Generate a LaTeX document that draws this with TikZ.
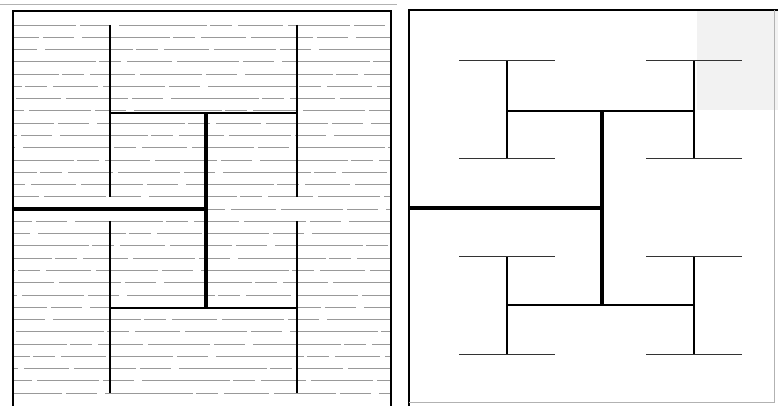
\documentclass[tikz,border=0pt]{standalone}
\usetikzlibrary{positioning}

\begin{document}
\begin{tikzpicture}[
    x=1pt, y=-1pt,
    frame/.style = {black, line width=1.5pt},
    faint/.style = {black!30, line width=1pt},
    trunk/.style = {black, line width=3.2pt},
    branch/.style = {black, line width=2pt},
    twig/.style = {black, line width=1.4pt},
    leaf/.style = {black!80, line width=1pt},
    row/.style = {black!40, line width=0.8pt,
      dash pattern=on 62pt off 4pt on 31pt off 8pt on 88pt off 3pt on 22pt off 6pt on 45pt off 5pt}
    ]

  \useasboundingbox (0,0) rectangle (779,406);

  % left panel
  \draw[faint] (0,5) -- (397,5);
  \fill[black!5] (697,11) rectangle (778,110);

  \foreach \i in {0,...,30}
    \draw[row, dash phase=\i*37pt] (14,25+\i*12.27) -- (390,25+\i*12.27);

  \draw[frame] (13,406) -- (13,11) -- (391,11) -- (391,406);

  \coordinate (lin) at (13,209);
  \coordinate (lroot) at (206,209);
  \draw[trunk] (lin) -- (lroot);
  \draw[trunk] (206,113) -- (206,308);
  \foreach \y in {113,308}
    \draw[branch] (110,\y) -- (297,\y);
  \foreach \x in {110,297}
    \foreach \y in {111,307}
      \draw[twig] (\x,\y-86) -- (\x,\y+86);

  % right panel
  \draw[frame] (409,406) -- (409,10) -- (778,10);
  \draw[faint] (774,10) -- (774,402) -- (409,402);

  \coordinate (rin) at (409,208);
  \coordinate (rroot) at (602,208);
  \draw[trunk] (rin) -- (rroot);
  \draw[trunk] (602,111) -- (602,305);
  \foreach \y in {111,305}
    \draw[branch] (507,\y) -- (694,\y);
  \foreach \x in {507,694}
    \foreach \y in {110,305}
      \draw[twig] (\x,\y-49) -- (\x,\y+49);
  \foreach \x in {507,694}
    \foreach \y in {61,159,256,354}
      \draw[leaf] (\x-48,\y) -- (\x+48,\y);

\end{tikzpicture}
\end{document}
